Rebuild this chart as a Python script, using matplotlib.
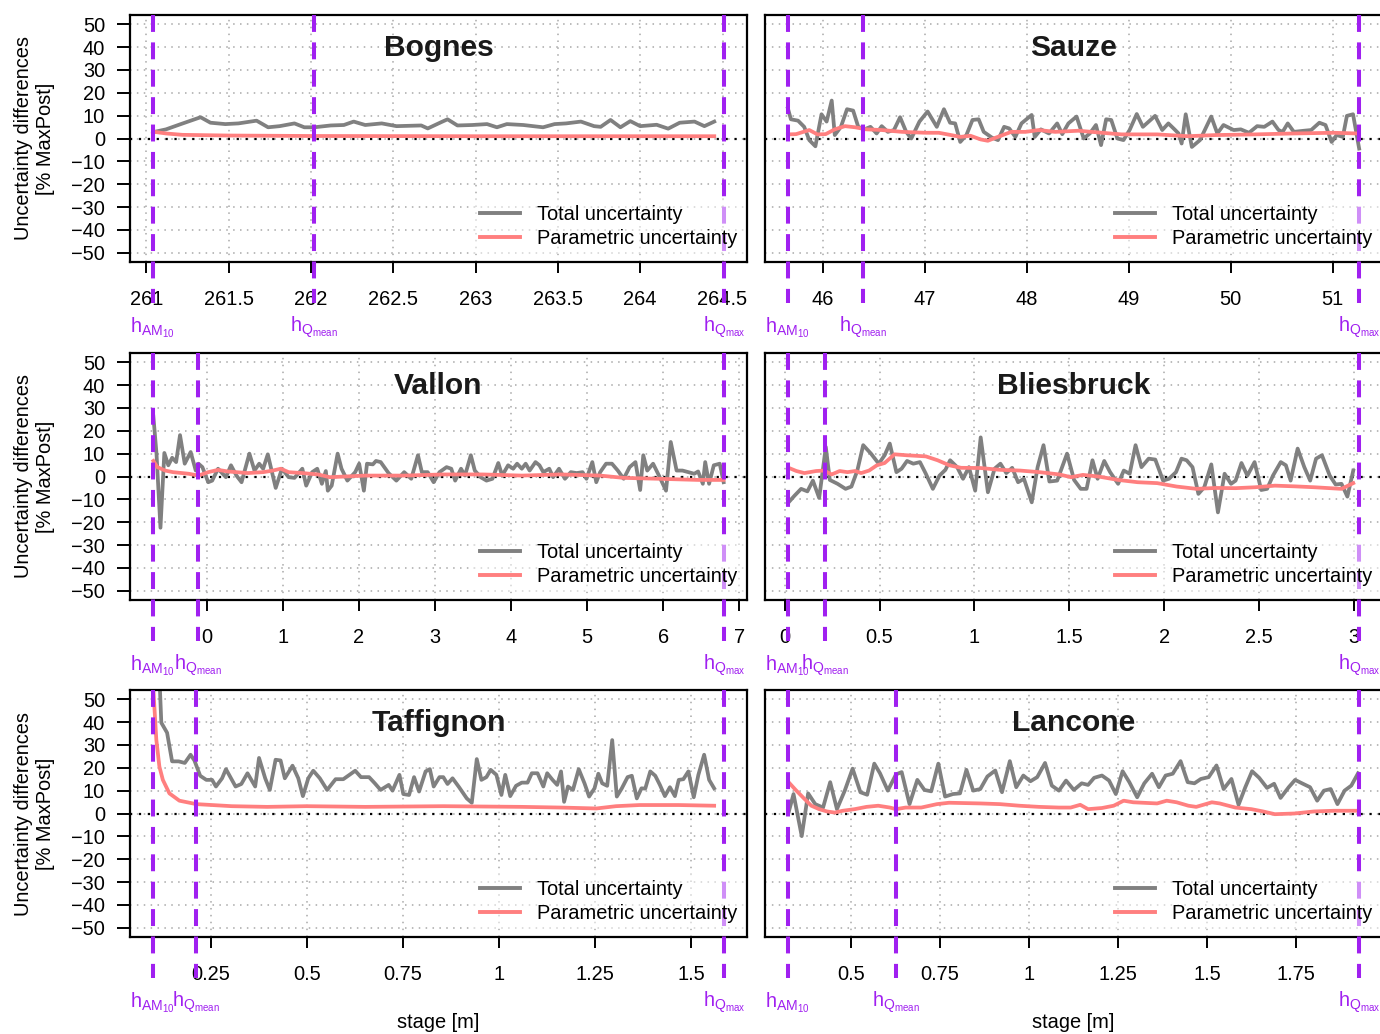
import matplotlib
matplotlib.use('Agg')
import matplotlib.pyplot as plt
import matplotlib.transforms as mtransforms
from matplotlib.lines import Line2D

plt.rcParams['font.family'] = ['Liberation Sans', 'DejaVu Sans']
plt.rcParams['mathtext.fontset'] = 'custom'
plt.rcParams['mathtext.rm'] = 'Liberation Sans'
plt.rcParams['mathtext.it'] = 'Liberation Sans:italic'
plt.rcParams['mathtext.bf'] = 'Liberation Sans:bold'

# ---------------- data ----------------
stations = ["Bognes", "Sauze", "Vallon", "Bliesbruck", "Taffignon", "Lancone"]
legend_labels = ["Total uncertainty", "Parametric uncertainty"]
h_labels = [r'$\mathregular{h_{AM_{10}}}$', r'$\mathregular{h_{Q_{mean}}}$', r'$\mathregular{h_{Q_{max}}}$']
y_ticks = [-50, -40, -30, -20, -10, 0, 10, 20, 30, 40, 50]

# Bognes
bognes_h = [261.04, 262.02, 264.51]
bognes_xticks = [261, 261.5, 262, 262.5, 263, 263.5, 264, 264.5]
bognes_stage_tot = [261.05, 261.12, 261.21, 261.33, 261.39, 261.48, 261.56, 261.67, 261.74, 261.81,
                    261.90, 261.96, 262.02, 262.12, 262.20, 262.26, 262.33, 262.43, 262.52, 262.67,
                    262.71, 262.79, 262.83, 262.89, 262.98, 263.07, 263.13, 263.19, 263.29, 263.41,
                    263.48, 263.55, 263.64, 263.72, 263.76, 263.82, 263.88, 263.94, 264.00, 264.10,
                    264.17, 264.24, 264.33, 264.39, 264.45]
bognes_tot = [2.9, 4.0, 6.3, 9.3, 6.9, 6.3, 6.6, 7.8, 4.9, 5.4,
              6.6, 4.9, 4.9, 5.7, 5.9, 7.4, 5.9, 6.6, 5.4, 5.7,
              4.4, 7.1, 8.4, 5.7, 5.9, 6.3, 4.9, 6.3, 5.9, 4.9,
              6.3, 6.6, 7.4, 5.4, 5.1, 8.1, 4.9, 7.6, 5.4, 6.0,
              4.3, 6.9, 7.4, 5.4, 7.4]
bognes_stage_par = [261.04, 261.12, 261.22, 261.50, 262.00, 263.00, 264.45]
bognes_par = [3.0, 2.2, 1.6, 1.3, 1.1, 1.0, 1.0]

# Sauze
sauze_h = [45.66, 46.40, 51.26]
sauze_xticks = [46, 47, 48, 49, 50, 51]
sauze_stage_tot = [45.66, 45.69, 45.76, 45.82, 45.87, 45.93, 45.99, 46.04, 46.09, 46.12,
                   46.18, 46.24, 46.30, 46.35, 46.41, 46.47, 46.53, 46.58, 46.64, 46.70,
                   46.76, 46.82, 46.87, 46.95, 47.03, 47.12, 47.19, 47.25, 47.30, 47.35,
                   47.41, 47.47, 47.53, 47.58, 47.66, 47.72, 47.78, 47.83, 47.89, 47.95,
                   48.05, 48.08, 48.14, 48.22, 48.30, 48.35, 48.41, 48.49, 48.56, 48.62,
                   48.68, 48.73, 48.78, 48.83, 48.89, 48.95, 49.01, 49.08, 49.14, 49.26,
                   49.33, 49.39, 49.45, 49.49, 49.52, 49.56, 49.62, 49.70, 49.81, 49.87,
                   49.93, 50.03, 50.10, 50.18, 50.26, 50.33, 50.41, 50.47, 50.51, 50.56,
                   50.62, 50.72, 50.79, 50.87, 50.93, 50.99, 51.04, 51.10, 51.14, 51.20,
                   51.26]
sauze_tot = [13.2, 8.4, 7.8, 5.1, -0.7, -3.4, 10.6, 7.4, 16.6, 1.5,
             5.1, 12.8, 12.2, 5.1, 4.0, 5.1, 2.2, 5.4, 2.9, 3.7,
             9.3, 2.9, 0.0, 7.4, 11.8, 5.1, 12.8, 6.9, 6.6, -1.5,
             1.5, 8.1, 8.4, 2.9, 0.4, -0.7, 5.1, 4.4, 0.7, 6.6,
             10.3, 0.7, 4.0, 2.2, 6.6, 1.9, 6.6, 9.6, 0.0, 2.2,
             5.9, -2.9, 8.4, 8.1, 0.0, -0.7, 3.7, 10.7, 5.1, 9.9,
             3.7, 6.6, 4.0, 2.2, -2.2, 10.6, -3.7, -0.7, 9.6, 2.2,
             5.9, 3.7, 4.0, 2.5, 5.4, 5.1, 7.4, 3.7, 2.9, 6.6,
             2.9, 3.4, 3.7, 6.9, 5.9, -1.5, 1.5, 0.7, 9.9, 10.6,
             -4.4]
sauze_stage_par = [45.66, 45.74, 45.87, 45.95, 46.03, 46.12, 46.22, 46.32, 46.43, 46.58,
                   46.78, 47.01, 47.14, 47.26, 47.35, 47.45, 47.55, 47.62, 47.70, 47.85,
                   47.99, 48.12, 48.28, 48.51, 48.74, 48.93, 49.28, 49.58, 49.85, 50.24,
                   50.62, 51.01, 51.24]
sauze_par = [1.8, 1.9, 3.7, 1.8, 1.9, 4.0, 5.4, 4.9, 4.0, 3.7,
             2.9, 2.5, 2.5, 1.5, 0.7, 1.2, -0.4, -1.0, 0.4, 2.9,
             2.9, 3.7, 2.9, 3.4, 2.5, 1.8, 1.8, 1.0, 1.5, 1.8,
             2.2, 2.5, 2.2]

# Vallon
vallon_h = [-0.71, -0.11, 6.80]
vallon_xticks = [0, 1, 2, 3, 4, 5, 6, 7]
vallon_stage_tot = [-0.703, -0.662, -0.610, -0.559, -0.507, -0.456, -0.404, -0.353, -0.291, -0.213,
                    -0.146, -0.110, -0.059, 0.018, 0.070, 0.147, 0.250, 0.317, 0.389, 0.456,
                    0.559, 0.626, 0.688, 0.740, 0.801, 0.905, 0.987, 1.075, 1.152, 1.255,
                    1.306, 1.384, 1.451, 1.512, 1.564, 1.590, 1.641, 1.719, 1.770, 1.847,
                    1.950, 2.002, 2.064, 2.105, 2.182, 2.223, 2.285, 2.388, 2.491, 2.594,
                    2.687, 2.775, 2.826, 2.903, 2.981, 3.058, 3.151, 3.213, 3.264, 3.341,
                    3.393, 3.470, 3.522, 3.599, 3.676, 3.754, 3.831, 3.882, 3.960, 4.027,
                    4.078, 4.140, 4.191, 4.243, 4.320, 4.372, 4.423, 4.501, 4.552, 4.629,
                    4.707, 4.784, 4.861, 4.939, 4.990, 5.067, 5.119, 5.170, 5.248, 5.325,
                    5.402, 5.479, 5.557, 5.634, 5.696, 5.737, 5.789, 5.866, 5.943, 6.036,
                    6.098, 6.175, 6.252, 6.330, 6.407, 6.458, 6.520, 6.551, 6.602, 6.664,
                    6.742, 6.793]
vallon_tot = [26.2, 10.0, -22.4, 10.3, 4.9, 8.2, 6.3, 18.1, 5.6, 10.7,
              2.6, 5.6, 4.1, -2.5, -1.8, 3.4, -0.3, 4.9, 0.4, -2.5,
              10.0, 2.6, 5.6, 3.4, 9.7, -5.0, 3.4, -0.3, -0.6, 3.4,
              -4.0, 1.9, 3.4, -3.2, 2.4, -6.2, -4.0, 10.0, 3.4, -1.8,
              1.9, 5.6, -6.2, 5.6, 5.3, 6.8, 6.3, 1.5, -1.8, 1.9,
              -1.0, 9.3, 1.9, 1.9, -2.5, 1.9, 4.1, 3.4, -1.8, 3.4,
              0.4, 9.3, 2.6, -0.3, -1.8, -1.0, 5.9, 0.4, 4.9, 3.4,
              5.6, 3.4, 5.6, 2.6, 6.3, 4.9, 1.9, 3.4, -0.3, 3.4,
              -1.0, 1.9, 1.5, 1.9, -1.0, 6.3, -2.5, 1.9, 5.6, 5.6,
              2.6, -1.0, 4.1, 6.3, -5.9, 9.3, 2.6, 5.6, 0.4, -6.2,
              15.1, 2.6, 2.6, 1.9, 1.2, 2.2, -3.2, 6.3, -3.2, 4.9,
              5.6, -2.5]
vallon_stage_par = [-0.703, -0.651, -0.548, -0.445, -0.239, -0.110, 0.018, 0.147, 0.276, 0.534,
                    0.740, 0.868, 0.971, 1.075, 1.255, 1.461, 1.616, 2.079, 2.594, 3.110,
                    3.625, 4.140, 4.655, 5.170, 5.479, 5.943, 6.458, 6.793]
vallon_par = [6.8, 4.1, 2.6, 1.9, 1.2, 0.4, 1.9, 2.9, 2.2, 1.5,
              1.9, 2.6, 3.4, 1.9, 1.5, 0.9, -0.3, 0.4, 0.4, 0.9,
              0.9, 0.4, 0.9, 0.4, -0.6, -1.0, -1.5, -1.5]

# Bliesbruck
blies_h = [0.017, 0.213, 3.027]
blies_xticks = [0, 0.5, 1, 1.5, 2, 2.5, 3]
blies_stage_tot = [0.021, 0.052, 0.087, 0.120, 0.149, 0.182, 0.217, 0.238, 0.279, 0.321,
                   0.352, 0.383, 0.414, 0.455, 0.496, 0.527, 0.554, 0.589, 0.616, 0.645,
                   0.678, 0.713, 0.744, 0.781, 0.816, 0.847, 0.872, 0.909, 0.940, 0.971,
                   1.004, 1.033, 1.071, 1.106, 1.137, 1.168, 1.199, 1.230, 1.261, 1.302,
                   1.333, 1.364, 1.395, 1.436, 1.488, 1.525, 1.560, 1.591, 1.622, 1.649,
                   1.684, 1.715, 1.757, 1.787, 1.818, 1.849, 1.880, 1.918, 1.953, 1.994,
                   2.025, 2.062, 2.091, 2.118, 2.149, 2.180, 2.211, 2.248, 2.283, 2.318,
                   2.352, 2.376, 2.407, 2.438, 2.476, 2.511, 2.542, 2.573, 2.614, 2.641,
                   2.666, 2.703, 2.738, 2.769, 2.800, 2.831, 2.872, 2.903, 2.934, 2.965,
                   2.996]
blies_tot = [-11.3, -8.4, -5.4, -6.5, -1.8, -9.4, 12.9, -1.5, -3.2, -5.4,
             -4.4, 2.6, 13.7, 10.0, 5.6, 9.3, 14.4, 1.9, 3.4, 6.8,
             5.6, 6.3, 1.2, -5.4, 0.4, 2.9, 7.1, 4.1, -1.0, 4.1,
             -6.2, 17.1, -6.9, 3.4, 5.6, 1.5, 3.8, -2.5, -1.0, -11.3,
             4.1, 13.7, -2.2, -1.8, 10.0, -1.5, -5.4, -5.4, 7.1, -1.0,
             6.8, 1.9, -3.2, 2.6, 1.2, 13.7, 4.1, 7.8, 7.4, -1.8,
             -1.0, 1.9, 7.8, 7.1, 4.1, -7.6, -4.7, 5.3, -15.7, 1.2,
             -3.2, -1.8, 5.9, 0.4, 6.3, -5.9, -5.4, 0.4, 6.3, 4.9,
             -1.8, 12.2, 4.1, -1.8, 7.8, 9.3, 0.4, -3.5, -3.2, -8.8,
             2.6]
blies_stage_par = [0.021, 0.062, 0.104, 0.166, 0.207, 0.248, 0.290, 0.331, 0.372, 0.403,
                   0.445, 0.486, 0.527, 0.579, 0.641, 0.744, 0.806, 0.868, 0.930, 1.033,
                   1.137, 1.240, 1.343, 1.447, 1.509, 1.571, 1.653, 1.757, 1.860, 1.963,
                   2.066, 2.170, 2.273, 2.376, 2.480, 2.583, 2.686, 2.790, 2.934, 2.996]
blies_par = [3.8, 2.4, 1.5, 2.4, 2.6, 0.9, 2.4, 1.9, 2.4, 1.5,
             2.6, 4.9, 5.9, 9.7, 9.3, 8.8, 7.1, 4.9, 3.8, 3.7,
             2.9, 2.6, 1.9, 0.9, -0.3, 0.7, 0.0, -1.5, -2.5, -2.9,
             -4.4, -5.4, -5.0, -5.1, -4.7, -4.0, -4.3, -4.7, -5.4, -2.9]

# Taffignon
taff_h = [0.100, 0.213, 1.585]
taff_xticks = [0.25, 0.5, 0.75, 1, 1.25, 1.5]
taff_stage_tot = [0.100, 0.122, 0.137, 0.150, 0.167, 0.183, 0.198, 0.208, 0.223, 0.239,
                  0.254, 0.264, 0.280, 0.290, 0.315, 0.330, 0.346, 0.366, 0.376, 0.392,
                  0.404, 0.419, 0.432, 0.443, 0.463, 0.478, 0.490, 0.504, 0.517, 0.534,
                  0.553, 0.575, 0.595, 0.611, 0.626, 0.641, 0.662, 0.677, 0.692, 0.713,
                  0.723, 0.741, 0.751, 0.766, 0.779, 0.792, 0.809, 0.820, 0.830, 0.845,
                  0.855, 0.866, 0.879, 0.896, 0.916, 0.929, 0.942, 0.954, 0.967, 0.978,
                  0.993, 1.006, 1.016, 1.029, 1.044, 1.059, 1.074, 1.085, 1.100, 1.115,
                  1.125, 1.139, 1.151, 1.161, 1.169, 1.179, 1.192, 1.207, 1.222, 1.234,
                  1.248, 1.258, 1.268, 1.281, 1.294, 1.306, 1.319, 1.334, 1.345, 1.358,
                  1.370, 1.380, 1.393, 1.406, 1.418, 1.431, 1.444, 1.457, 1.467, 1.479,
                  1.492, 1.506, 1.518, 1.533, 1.546, 1.559]
taff_tot = [130.0, 39.7, 35.3, 22.8, 22.8, 22.1, 25.7, 23.2, 16.5, 14.7,
            14.7, 11.8, 15.4, 19.4, 11.8, 12.9, 17.6, 11.8, 24.3, 15.4,
            10.3, 23.5, 23.2, 15.4, 20.9, 15.4, 7.6, 15.4, 18.7, 15.4,
            10.3, 15.0, 15.0, 16.9, 18.7, 15.9, 15.9, 13.2, 10.3, 12.5,
            10.0, 16.9, 8.5, 8.1, 15.9, 9.6, 18.4, 19.4, 11.8, 15.9,
            15.9, 12.9, 15.4, 11.5, 6.6, 4.7, 23.8, 14.7, 15.9, 19.1,
            16.9, 8.1, 16.9, 7.6, 12.1, 13.5, 13.5, 17.6, 17.6, 11.8,
            17.6, 14.7, 12.5, 18.4, 5.1, 11.8, 10.3, 19.4, 13.2, 7.4,
            11.0, 17.4, 13.2, 12.1, 32.1, 7.4, 11.0, 15.9, 16.5, 6.6,
            11.0, 10.9, 18.4, 16.5, 12.5, 7.6, 11.5, 7.6, 14.7, 15.0,
            18.4, 7.1, 16.9, 25.7, 14.7, 11.0]
taff_stage_par = [0.100, 0.109, 0.117, 0.126, 0.143, 0.169, 0.213, 0.305, 0.397, 0.499,
                  0.652, 0.855, 1.059, 1.161, 1.253, 1.304, 1.365, 1.467, 1.559]
taff_par = [58.0, 32.3, 20.5, 14.7, 8.8, 5.6, 4.1, 3.2, 2.9, 3.2,
            2.9, 3.2, 2.9, 2.6, 2.2, 3.2, 3.7, 3.7, 3.4]

# Lancone
lanc_h = [0.322, 0.626, 1.928]
lanc_xticks = [0.5, 0.75, 1, 1.25, 1.5, 1.75]
lanc_stage_tot = [0.324, 0.338, 0.361, 0.379, 0.399, 0.421, 0.441, 0.460, 0.482, 0.504,
                  0.526, 0.545, 0.565, 0.581, 0.603, 0.626, 0.642, 0.664, 0.686, 0.706,
                  0.725, 0.745, 0.764, 0.786, 0.806, 0.824, 0.843, 0.863, 0.883, 0.905,
                  0.924, 0.946, 0.964, 0.984, 1.004, 1.023, 1.045, 1.064, 1.084, 1.104,
                  1.126, 1.148, 1.166, 1.183, 1.205, 1.225, 1.244, 1.263, 1.282, 1.304,
                  1.324, 1.346, 1.365, 1.384, 1.404, 1.426, 1.446, 1.465, 1.483, 1.505,
                  1.527, 1.547, 1.569, 1.589, 1.608, 1.627, 1.647, 1.669, 1.689, 1.707,
                  1.730, 1.748, 1.770, 1.790, 1.810, 1.829, 1.848, 1.867, 1.887, 1.906,
                  1.925]
lanc_tot = [0.4, 8.5, -9.9, 8.8, 4.1, 2.6, 13.7, 1.9, 10.0, 19.6,
            9.3, 8.2, 21.8, 17.6, 10.0, 17.1, 18.1, 4.1, 14.7, 10.3,
            9.7, 21.8, 7.4, 8.5, 8.8, 19.1, 10.0, 10.7, 16.2, 18.8,
            9.3, 22.9, 11.5, 16.6, 14.1, 15.9, 22.1, 12.2, 10.0, 14.4,
            10.3, 13.2, 12.5, 15.6, 16.6, 14.4, 8.5, 18.5, 13.7, 7.1,
            13.2, 17.4, 11.5, 16.6, 17.4, 22.9, 13.7, 13.2, 15.1, 15.9,
            21.0, 10.7, 15.1, 3.8, 11.5, 18.5, 15.6, 11.2, 13.0, 6.8,
            11.5, 14.7, 13.0, 11.5, 5.6, 10.0, 10.7, 4.1, 10.0, 12.2,
            17.6]
lanc_stage_par = [0.324, 0.344, 0.366, 0.388, 0.410, 0.432, 0.454, 0.476, 0.510, 0.543,
                  0.576, 0.609, 0.626, 0.653, 0.697, 0.741, 0.775, 0.863, 0.918, 0.973,
                  1.028, 1.084, 1.117, 1.144, 1.166, 1.205, 1.238, 1.266, 1.293, 1.360,
                  1.387, 1.415, 1.448, 1.470, 1.514, 1.536, 1.580, 1.625, 1.658, 1.691,
                  1.746, 1.801, 1.857, 1.925]
lanc_par = [13.7, 10.3, 6.8, 3.4, 1.9, 0.9, 0.4, 1.2, 1.9, 2.9,
            3.4, 2.6, 1.9, 2.6, 2.6, 4.1, 4.7, 4.4, 4.1, 3.4,
            2.9, 2.6, 2.6, 3.8, 1.9, 2.4, 3.4, 5.6, 4.9, 4.4,
            5.6, 4.9, 3.4, 2.9, 4.9, 4.4, 2.6, 1.9, 0.9, -0.3,
            0.0, 0.9, 1.2, 1.2]

panels = [
    (bognes_h, bognes_xticks, bognes_stage_tot, bognes_tot, bognes_stage_par, bognes_par),
    (sauze_h, sauze_xticks, sauze_stage_tot, sauze_tot, sauze_stage_par, sauze_par),
    (vallon_h, vallon_xticks, vallon_stage_tot, vallon_tot, vallon_stage_par, vallon_par),
    (blies_h, blies_xticks, blies_stage_tot, blies_tot, blies_stage_par, blies_par),
    (taff_h, taff_xticks, taff_stage_tot, taff_tot, taff_stage_par, taff_par),
    (lanc_h, lanc_xticks, lanc_stage_tot, lanc_tot, lanc_stage_par, lanc_par),
]

# ---------------- style ----------------
FS = 14.4
GRAY = '#808080'
RED = '#FF7F7F'
PURPLE = '#A020F0'
FW, FH = 1380, 1034
lefts = [130, 765]
widths = [617, 617]
tops = [15, 353, 690]
PH = 247

fig = plt.figure(figsize=(FW / 100, FH / 100), dpi=100)

for i, (name, (hv, xt, st, tot, sp, par)) in enumerate(zip(stations, panels)):
    r, c = divmod(i, 2)
    ax = fig.add_axes([lefts[c] / FW, 1 - (tops[r] + PH) / FH, widths[c] / FW, PH / FH])
    rng = hv[2] - hv[0]
    ax.set_xlim(hv[0] - 0.04 * rng, hv[2] + 0.04 * rng)
    ax.set_ylim(-54, 54)
    ax.set_xticks(xt)
    ax.set_xticklabels([f"{v:g}" for v in xt])
    ax.set_yticks(y_ticks)
    ax.grid(True, color='#a8a8a8', linestyle=(0, (1, 3.5)), linewidth=1.1)
    ax.set_axisbelow(True)
    ax.axhline(0, color='black', linestyle=(0, (1, 3)), linewidth=1.6, zorder=1.8)
    ax.plot(st, tot, color=GRAY, lw=2.7, zorder=2.2, solid_joinstyle='round')
    ax.plot(sp, par, color=RED, lw=2.7, zorder=2.3, solid_joinstyle='round')
    for hx in hv:
        ax.plot([hx, hx], [54, -72], color=PURPLE, lw=2.9, linestyle=(0, (4.2, 2.6)),
                clip_on=False, zorder=4, solid_capstyle='butt', dash_capstyle='butt')
    trans_x = mtransforms.blended_transform_factory(ax.transData, ax.transAxes)
    for hx, lab in zip(hv, h_labels):
        ax.text(hx, -0.283, lab, transform=trans_x, ha='center', va='baseline',
                color=PURPLE, fontsize=FS, clip_on=False)
    trans_t = mtransforms.blended_transform_factory(ax.transAxes, ax.transData)
    ax.text(0.5, 36, name, transform=trans_t, ha='center', va='baseline',
            fontsize=21.6, fontweight='bold', color='#1a1a1a')
    for sp_ in ax.spines.values():
        sp_.set_linewidth(1.6)
    ax.tick_params(axis='x', length=8, width=1.4, pad=12.4, labelsize=FS, direction='out')
    if c == 0:
        ax.tick_params(axis='y', length=9.4, width=1.4, pad=8.5, labelsize=FS, direction='out')
        ax.text(-0.1548, 0.5, "Uncertainty differences\n[% MaxPost]", transform=ax.transAxes,
                rotation=90, ha='center', va='center', multialignment='center',
                fontsize=FS, linespacing=1.15)
    else:
        ax.tick_params(axis='y', left=False, labelleft=False)
    if r == 2:
        ax.text(0.5, -0.368, "stage [m]", transform=ax.transAxes, ha='center',
                va='baseline', fontsize=FS)
    handles = [Line2D([], [], color=GRAY, lw=2.8), Line2D([], [], color=RED, lw=2.8)]
    leg = ax.legend(handles, legend_labels, loc='lower right', bbox_to_anchor=(1.0075, 0.0),
                    fontsize=FS, frameon=True, framealpha=0.5, facecolor='white',
                    edgecolor='none', handlelength=2.0, handletextpad=0.85, labelspacing=0.25,
                    borderpad=0.3, borderaxespad=0.4, fancybox=False)
    leg.set_zorder(5)

fig.savefig('out.png', dpi=100)
